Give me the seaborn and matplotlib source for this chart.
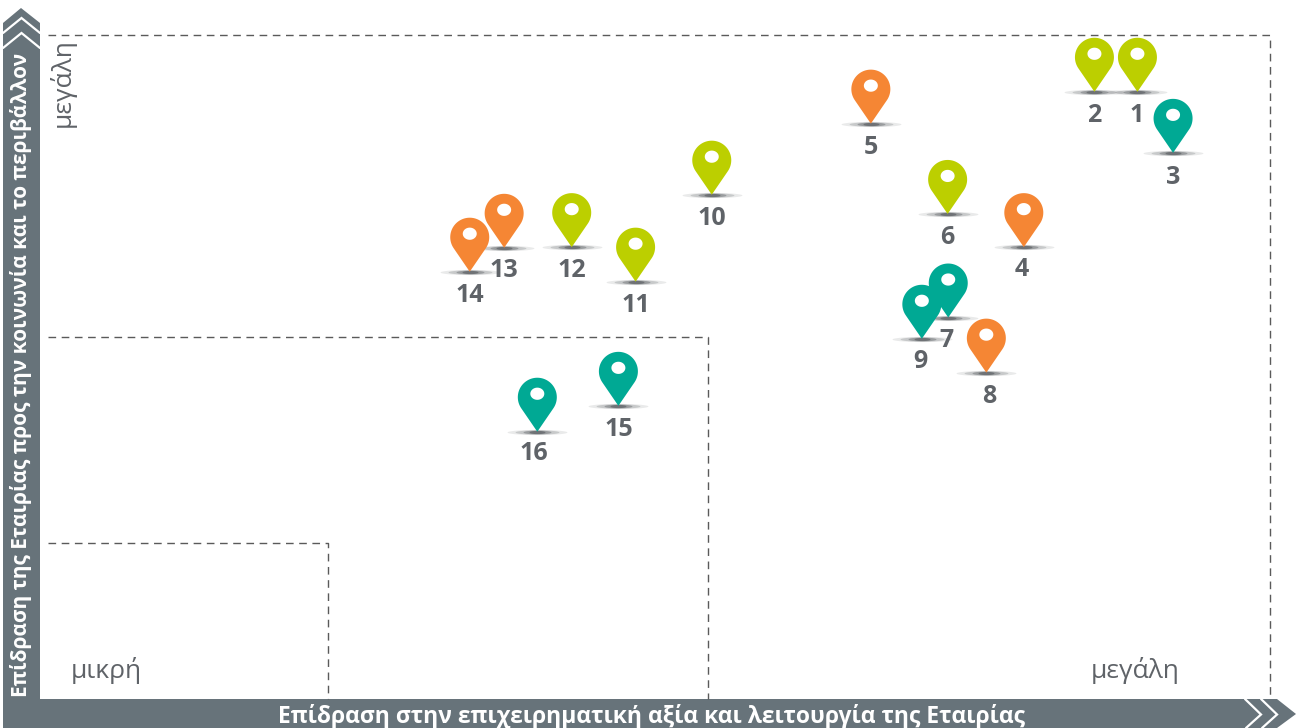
import numpy as np
import pandas as pd
import matplotlib
matplotlib.use("Agg")
import matplotlib.pyplot as plt
from matplotlib.path import Path
from matplotlib.markers import MarkerStyle
from matplotlib.patches import Polygon
import seaborn as sns

sns.set_theme(style="white")
plt.rcParams['font.family'] = ['Open Sans', 'DejaVu Sans']

W, H = 1306, 728
L, R, T, B = 41, 1269.5, 35, 699

# impact scores, 0-100 on both axes
ids = list(range(1, 17))
impact_x = [89.25, 85.75, 92.15, 80.0, 67.55, 73.8, 73.85, 76.95, 71.7, 54.6, 48.4, 43.2, 37.7, 34.9, 47.0, 40.4]
impact_y = [91.45, 91.45, 82.25, 68.05, 86.65, 73.05, 57.45, 49.15, 54.25, 75.95, 62.85, 68.05, 67.95, 64.35, 44.15, 40.25]
groups = ["g", "g", "t", "o", "o", "g", "t", "o", "t", "g", "g", "g", "o", "o", "t", "t"]
label_dx = [-1, 0, 0, -2, 0, 0, -2, 3, -1, 0, 0, 0, 0, 0, 0, -4]
label_dy = [23.5, 23.5, 24.5, 22.5, 23.5, 23.5, 22.5, 23.5, 22.5, 23.5, 23.5, 23.5, 22.5, 23.5, 23.5, 21.5]
palette = {"g": "#BCCF00", "o": "#F58634", "t": "#00A994"}
band_color = "#67737A"
text_grey = "#5F6368"

# zone boundaries (0-100)
zone_edges = [(54.3, 54.5), (23.35, 23.5)]
xlabel = "Επίδραση στην επιχειρηματική αξία και λειτουργία της Εταιρίας"
ylabel = "Επίδραση της Εταιρίας προς την κοινωνία και το περιβάλλον"

df = pd.DataFrame({"id": ids, "x": impact_x, "y": impact_y, "group": groups})

fig = plt.figure(figsize=(W / 100, H / 100), dpi=100)
fig.patch.set_facecolor("white")

# decoration layer in pixel coordinates
deco = fig.add_axes([0, 0, 1, 1])
deco.set_xlim(0, W); deco.set_ylim(H, 0); deco.axis("off")

ax = fig.add_axes([L / W, 1 - B / H, (R - L) / W, (B - T) / H])
ax.set_xlim(0, 100); ax.set_ylim(0, 100); ax.axis("off")
ax.patch.set_alpha(0)

dash = dict(color="#5a5a5a", lw=1.0, dashes=(5.5, 4), clip_on=False)
ax.plot([0.6, 100, 100], [100, 100, 0], **dash)
for ex, ey in zone_edges:
    ax.plot([0.6, ex, ex], [ey, ey, 0], **dash)

# bands
deco.add_patch(Polygon([(3, 23), (21, 8), (40, 23), (40, 699), (3, 699)], fc=band_color, ec="none", zorder=2))
deco.add_patch(Polygon([(3, 699), (1277, 699), (1296, 714), (1277, 728), (3, 728)], fc=band_color, ec="none", zorder=2))
for off in (0, 15):
    deco.plot([3, 21.5, 40], [33 + off, 18 + off, 33 + off], color="white", lw=1.6, zorder=3, solid_joinstyle="miter")
    deco.plot([1245 + off * 1.07, 1261 + off * 1.07, 1246 + off * 1.07], [699, 714.5, 728], color="white", lw=1.6, zorder=3, solid_joinstyle="miter")
deco.text(652, 716.5, xlabel, color="white", fontsize=16.5, fontweight="bold", ha="center", va="center", zorder=4)
deco.text(21.5, 375, ylabel, color="white", fontsize=15.0, fontweight="bold", rotation=90, ha="center", va="center", zorder=4)

tc = dict(color=text_grey, fontsize=19, va="center", ha="center")
deco.text(106, 671, "μικρή", **tc)
deco.text(1135, 671, "μεγάλη", **tc)
deco.text(62, 83, "μεγάλη", rotation=90, **tc)

# pin marker: tip at origin, 39 wide x 54 tall (px), straight tangents from the tip to the round head
r = 19.5
cy = 34.5
ang = np.arcsin(r / cy)
t = np.linspace(-ang, np.pi + ang, 60)
head = np.column_stack([r * np.cos(t), cy + r * np.sin(t)])
verts = [(0, 0)] + [tuple(p) for p in head] + [(0, 0)]
codes = [Path.MOVETO] + [Path.LINETO] * len(head) + [Path.CLOSEPOLY]
hx, hy = 7.0, 6.1
hc = 38
th = np.linspace(0, -2 * np.pi, 40)
hv = [(hx * np.cos(a), hc + hy * np.sin(a)) for a in th] + [(hx, hc)]
hk = [Path.MOVETO] + [Path.LINETO] * 39 + [Path.CLOSEPOLY]
pin_path = Path(verts + hv, codes + hk)
pin = MarkerStyle(pin_path)
pin_size = (2 * (cy + r) * 0.72) ** 2


def shadow_marker(rx, ry):
    t = np.linspace(0, 2 * np.pi, 40)
    return Path(np.column_stack([rx * np.cos(t), ry * np.sin(t)]), closed=True)


for rx, ry, a in [(30, 2.6, 0.10), (22, 2.2, 0.18), (14, 1.9, 0.30), (8, 1.6, 0.40)]:
    sns.scatterplot(data=df, x="x", y="y", ax=ax, marker=MarkerStyle(shadow_marker(rx, ry)),
                    s=(2 * rx * 0.72) ** 2, color="#30343a", alpha=a, linewidth=0, legend=False, clip_on=False)

sns.scatterplot(data=df, x="x", y="y", hue="group", palette=palette, ax=ax, marker=pin,
                s=pin_size, linewidth=0, legend=False, clip_on=False, zorder=5)
ax.set_xlabel(""); ax.set_ylabel("")

for i, x, y, dx, dy in zip(ids, impact_x, impact_y, label_dx, label_dy):
    ax.annotate(str(i), (x, y), xytext=(dx * 0.72, -dy * 0.72), textcoords="offset points",
                color=text_grey, fontsize=18, fontweight="bold", ha="center", va="center", zorder=6)

fig.savefig("out.png", dpi=100)
